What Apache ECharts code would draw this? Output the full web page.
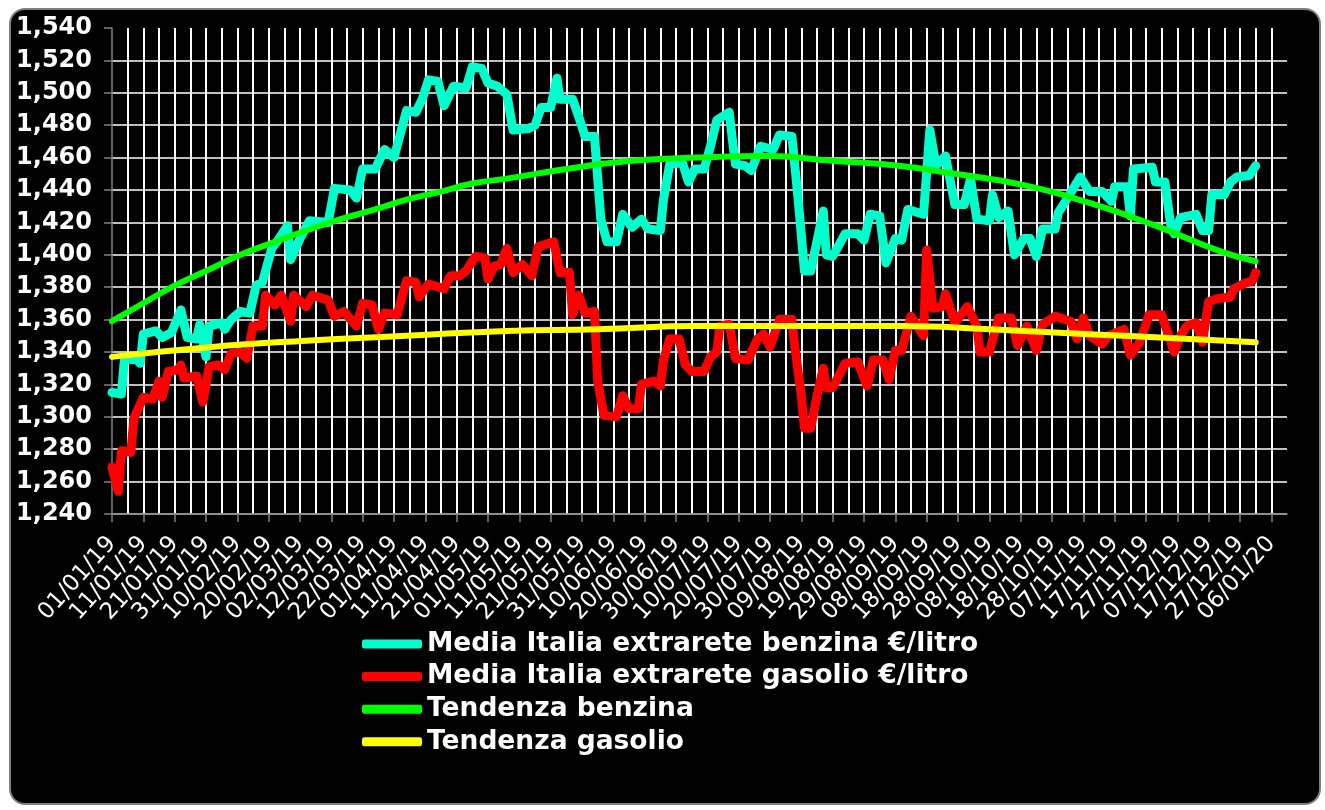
<!DOCTYPE html>
<html>
<head>
<meta charset="utf-8">
<script src="https://cdn.jsdelivr.net/npm/echarts@6/dist/echarts.min.js"></script>
<style>
  html, body { margin: 0; padding: 0; background: #ffffff; }
  #frame { position: absolute; left: 9px; top: 8px; width: 1308px; height: 793px;
           background: #000; border: 2px solid #808080; border-radius: 16px; }
  #chart { position: absolute; left: 0; top: 0; width: 1325px; height: 810px; }
</style>
</head>
<body>
<div id="frame"></div>
<div id="chart"></div>
<script>
// X tick labels every 10 days (day 0 = 01/01/19)
const tickLabels = ['01/01/19','11/01/19','21/01/19','31/01/19','10/02/19','20/02/19','02/03/19','12/03/19','22/03/19','01/04/19','11/04/19','21/04/19','01/05/19','11/05/19','21/05/19','31/05/19','10/06/19','20/06/19','30/06/19','10/07/19','20/07/19','30/07/19','09/08/19','19/08/19','29/08/19','08/09/19','18/09/19','28/09/19','08/10/19','18/10/19','28/10/19','07/11/19','17/11/19','27/11/19','07/12/19','17/12/19','27/12/19','06/01/20'];

const seriesNames = ['Media Italia extrarete benzina €/litro','Media Italia extrarete gasolio €/litro','Tendenza benzina','Tendenza gasolio'];

// [day, €/litro]
const benzina = [[0,1.315],[3,1.314],[4,1.336],[8,1.335],[9,1.333],[10,1.351],[14,1.353],[16,1.349],[19,1.352],[22,1.366],[24,1.349],[27,1.348],[28,1.357],[30,1.337],[31,1.356],[35,1.358],[36,1.354],[38,1.360],[41,1.365],[44,1.364],[46,1.381],[48,1.383],[51,1.404],[53,1.409],[56,1.418],[57,1.397],[60,1.410],[63,1.421],[69,1.420],[71,1.441],[76,1.440],[78,1.435],[80,1.453],[84,1.453],[87,1.465],[90,1.460],[94,1.489],[97,1.488],[99,1.496],[101,1.508],[104,1.507],[106,1.492],[109,1.504],[113,1.503],[115,1.516],[118,1.515],[120,1.506],[123,1.504],[126,1.499],[128,1.477],[133,1.478],[135,1.480],[137,1.491],[140,1.491],[142,1.509],[143,1.496],[147,1.496],[149,1.485],[151,1.473],[154,1.473],[156,1.422],[158,1.408],[161,1.408],[163,1.425],[166,1.417],[169,1.422],[171,1.416],[175,1.415],[176,1.434],[178,1.456],[182,1.457],[184,1.445],[186,1.453],[189,1.453],[191,1.467],[193,1.483],[197,1.488],[198,1.471],[199,1.456],[202,1.455],[204,1.452],[207,1.467],[211,1.465],[213,1.474],[217,1.473],[219,1.434],[221,1.390],[223,1.390],[227,1.427],[228,1.400],[230,1.399],[234,1.413],[238,1.413],[240,1.409],[242,1.425],[245,1.424],[247,1.395],[250,1.410],[252,1.409],[254,1.428],[259,1.425],[261,1.477],[263,1.455],[266,1.461],[269,1.431],[272,1.431],[274,1.447],[276,1.422],[280,1.421],[281,1.437],[283,1.423],[286,1.427],[288,1.400],[291,1.410],[293,1.410],[295,1.399],[297,1.416],[301,1.416],[302,1.426],[304,1.432],[309,1.448],[312,1.439],[316,1.439],[319,1.433],[320,1.442],[324,1.442],[325,1.424],[326,1.453],[332,1.454],[333,1.445],[336,1.445],[338,1.417],[339,1.413],[341,1.423],[346,1.425],[348,1.415],[350,1.415],[351,1.437],[355,1.437],[357,1.445],[359,1.448],[363,1.449],[365,1.455]];

const gasolio = [[0,1.269],[2,1.254],[3,1.279],[6,1.278],[7,1.299],[10,1.312],[13,1.311],[15,1.322],[16,1.312],[18,1.328],[21,1.329],[22,1.332],[23,1.324],[27,1.325],[29,1.309],[31,1.331],[34,1.332],[36,1.329],[38,1.339],[41,1.340],[43,1.336],[45,1.356],[48,1.356],[49,1.375],[52,1.369],[54,1.375],[57,1.359],[58,1.375],[62,1.368],[64,1.375],[69,1.372],[71,1.362],[74,1.365],[78,1.356],[80,1.370],[83,1.369],[85,1.354],[87,1.364],[91,1.363],[94,1.384],[97,1.383],[98,1.374],[101,1.382],[106,1.379],[108,1.387],[111,1.387],[113,1.390],[116,1.399],[119,1.398],[120,1.385],[122,1.393],[124,1.394],[126,1.404],[128,1.389],[131,1.394],[134,1.387],[136,1.405],[141,1.408],[143,1.389],[146,1.389],[147,1.363],[149,1.375],[151,1.364],[154,1.365],[155,1.322],[157,1.301],[161,1.300],[163,1.313],[165,1.305],[168,1.305],[169,1.320],[173,1.322],[175,1.319],[176,1.335],[178,1.348],[181,1.348],[183,1.332],[185,1.328],[189,1.328],[191,1.337],[193,1.340],[194,1.356],[197,1.357],[199,1.336],[203,1.335],[206,1.348],[208,1.351],[210,1.343],[213,1.360],[217,1.360],[218,1.342],[220,1.313],[221,1.293],[223,1.293],[225,1.313],[227,1.330],[228,1.318],[230,1.318],[234,1.333],[238,1.334],[241,1.319],[243,1.335],[246,1.335],[248,1.323],[250,1.341],[252,1.341],[255,1.362],[259,1.350],[260,1.403],[262,1.367],[265,1.368],[266,1.376],[269,1.358],[273,1.368],[276,1.356],[277,1.340],[280,1.340],[283,1.361],[287,1.361],[289,1.344],[292,1.356],[295,1.341],[297,1.357],[301,1.362],[306,1.359],[308,1.348],[310,1.361],[312,1.350],[316,1.345],[318,1.350],[323,1.354],[325,1.338],[328,1.346],[331,1.363],[335,1.363],[339,1.340],[341,1.350],[343,1.356],[346,1.358],[348,1.346],[350,1.371],[353,1.373],[357,1.374],[358,1.379],[361,1.382],[364,1.384],[365,1.389]];

const tendenzaBenzina = [[0,1.359],[9,1.369],[20,1.381],[30,1.390],[41,1.400],[52,1.408],[62,1.415],[73,1.422],[84,1.428],[94,1.434],[105,1.439],[115,1.444],[126,1.447],[145,1.453],[166,1.458],[188,1.460],[209,1.461],[230,1.458],[251,1.455],[269,1.450],[291,1.443],[312,1.432],[333,1.418],[354,1.402],[365,1.396]];

const tendenzaGasolio = [[0,1.337],[31,1.343],[62,1.347],[94,1.350],[126,1.353],[155,1.354],[187,1.356],[219,1.356],[251,1.356],[280,1.354],[312,1.351],[344,1.348],[365,1.346]];

const colors = ['#00FFCC', '#FF0000', '#00FF00', '#FFFF00'];

// category positions: one per day, 0..375
const days = [];
for (let i = 0; i <= 375; i++) days.push(String(i));

const gray = '#808080';

function lineSeries(idx, data, width, smooth) {
  return {
    name: seriesNames[idx], type: 'line', data: data,
    symbol: 'none', smooth: smooth,
    itemStyle: { color: colors[idx] },
    lineStyle: { width: width, color: colors[idx], cap: 'round', join: 'round' }
  };
}

const chart = echarts.init(document.getElementById('chart'), null, { renderer: 'canvas' });
chart.setOption({
  backgroundColor: 'transparent',
  animation: false,
  grid: { left: 112, top: 28, width: 1175, height: 486 },
  xAxis: {
    type: 'category', data: days, boundaryGap: false,
    axisLine: { lineStyle: { color: gray, width: 1.5 } },
    axisTick: { interval: function (i) { return i % 10 === 0 && i <= 370; }, length: 8, lineStyle: { color: gray, width: 1.5 } },
    axisLabel: {
      interval: 0,
      rotate: 48, margin: 26, color: '#ffffff', fontSize: 23, fontFamily: 'DejaVu Sans',
      formatter: function (v) { const n = Number(v); return n % 10 === 0 ? (tickLabels[n / 10] || '') : ''; }
    },
    splitLine: { show: true, interval: function (i) { return i % 5 === 0 && i > 0 && i < 375; },
                 lineStyle: { color: '#ffffff', width: 2 } }
  },
  yAxis: {
    type: 'value', min: 1.24, max: 1.54, interval: 0.02,
    axisLine: { show: true, lineStyle: { color: gray, width: 1.5 } },
    axisTick: { show: true, length: 8, lineStyle: { color: gray, width: 1.5 } },
    axisLabel: { margin: 20, color: '#ffffff', fontSize: 24, fontWeight: 'bold', fontFamily: 'DejaVu Sans',
                 formatter: function (v) { return v.toFixed(3).replace('.', ','); } },
    splitLine: { show: true, showMaxLine: false, lineStyle: { color: '#ffffff', width: 1.5 } }
  },
  legend: {
    orient: 'vertical', left: 362, top: 629, padding: 0, itemWidth: 60, itemHeight: 9, itemGap: 2.6,
    icon: 'roundRect',
    textStyle: { color: '#ffffff', fontSize: 26.5, fontWeight: 'bold', fontFamily: 'DejaVu Sans', lineHeight: 30 },
    data: seriesNames
  },
  series: [
    lineSeries(0, benzina, 9, false),
    lineSeries(1, gasolio, 9, false),
    lineSeries(2, tendenzaBenzina, 6, true),
    lineSeries(3, tendenzaGasolio, 6, true)
  ]
});
</script>
</body>
</html>
